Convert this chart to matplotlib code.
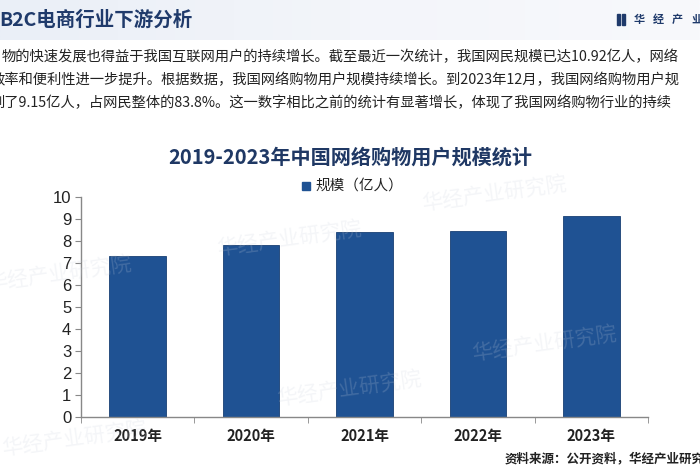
import matplotlib
matplotlib.use("Agg")
import matplotlib.pyplot as plt
from matplotlib.patches import Rectangle
from matplotlib.colors import LinearSegmentedColormap
import numpy as np

plt.rcParams['font.family'] = ['Noto Sans CJK SC', 'DejaVu Sans']

years = ["2019年", "2020年", "2021年", "2022年", "2023年"]
users = [7.32, 7.82, 8.42, 8.45, 9.15]
yticks = list(range(0, 11))

title = "2019-2023年中国网络购物用户规模统计"
legend_label = "规模（亿人）"
header = "B2C电商行业下游分析"
para = [
    "物的快速发展也得益于我国互联网用户的持续增长。截至最近一次统计，我国网民规模已达10.92亿人，网络",
    "效率和便利性进一步提升。根据数据，我国网络购物用户规模持续增长。到2023年12月，我国网络购物用户规",
    "到了9.15亿人，占网民整体的83.8%。这一数字相比之前的统计有显著增长，体现了我国网络购物行业的持续",
]
source = "资料来源：公开资料，华经产业研究院"
logo = "华经产业研究院"

W, H = 700, 470
fig = plt.figure(figsize=(7, 4.7), dpi=100)
fig.patch.set_facecolor("white")

def px(x, y):
    return x / W, 1 - y / H

# header band
band = fig.add_axes([0, 1 - 40 / H, 1, 40 / H])
grad = np.linspace(0, 1, 256).reshape(1, -1)
cm = LinearSegmentedColormap.from_list("b", ["#eaeff7", "#f3f5fa", "#f8f9fc"])
band.imshow(grad, aspect="auto", cmap=cm, extent=[0, 1, 0, 1])
band.axis("off")

fig.text(*px(-1, 20), header, fontsize=14, color="#1f3a6b", va="center", ha="left", fontweight="bold")
# logo (only the visible part of the name fits in the frame)
fig.patches.append(Rectangle(px(617, 25), 3 / W, 11 / H, transform=fig.transFigure, color="#1f3a6b"))
fig.patches.append(Rectangle(px(622, 25), 3 / W, 11 / H, transform=fig.transFigure, color="#1f3a6b"))
for i, ch in enumerate(logo[:4]):
    fig.text(*px(634 + i * 19, 19), ch, fontsize=8, color="#1f3a6b", va="center", ha="left", fontweight="bold")

# paragraph
xs = [2, -10, -10]
ys = [57, 80, 103]
for t, x0, y0 in zip(para, xs, ys):
    fig.text(*px(x0, y0), t, fontsize=10.3, color="#222222", va="center", ha="left")

# chart axes
ax = fig.add_axes([81 / W, 1 - 417 / H, 567 / W, 220 / H])
ax.set_facecolor("none")
x = np.arange(len(years))
ax.bar(x, users, width=0.5, color="#1f5293", edgecolor="#183f74", linewidth=0.6, zorder=2)
ax.set_xlim(-0.5, len(years) - 0.5)
ax.set_ylim(0, 10)
ax.set_yticks(yticks)
ax.set_yticklabels([str(v) for v in yticks], fontsize=12, color="#222222", family="Liberation Sans")
ax.set_xticks(x)
ax.set_xticklabels(years, fontsize=10.5, color="#222222", fontweight="bold")
ax.set_xticks(np.arange(-0.5, len(years), 1.0), minor=True)
ax.tick_params(axis="x", which="major", length=0, pad=8)
ax.tick_params(axis="x", which="minor", length=4, direction="out", color="#888888")
ax.tick_params(axis="y", length=4, direction="out", color="#888888", pad=3)
for s in ["top", "right"]:
    ax.spines[s].set_visible(False)
for s in ["left", "bottom"]:
    ax.spines[s].set_color("#888888")
    ax.spines[s].set_linewidth(1.0)

# title and legend
fig.text(*px(350, 157), title, fontsize=14.5, color="#1f3864", ha="center", va="center", fontweight="bold")
fig.patches.append(Rectangle(px(302, 190), 8 / W, 8 / H, transform=fig.transFigure, color="#1f5293"))
fig.text(*px(315, 186), legend_label, fontsize=10.5, color="#222222", ha="left", va="center")

# source
fig.text(*px(505, 459), source, fontsize=9, color="#222222", ha="left", va="center", fontweight="bold")

# faint watermarks
for (wx, wy) in [(215, 240), (-15, 275), (420, 195), (275, 390), (470, 345), (0, 440)]:
    fig.text(*px(wx, wy), logo, fontsize=15, color="#c9d0dc", alpha=0.2, rotation=8,
             ha="left", va="center", zorder=5)

fig.savefig("out.png", dpi=100)
